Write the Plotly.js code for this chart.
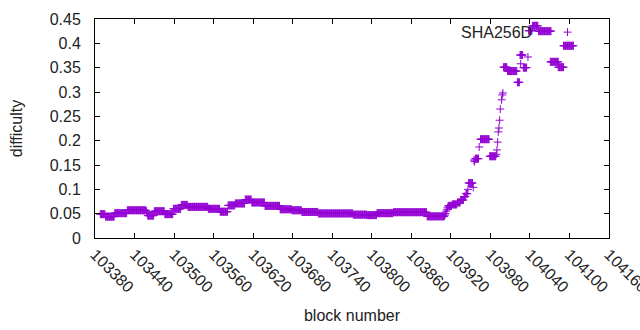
<!DOCTYPE html>
<html>
<head>
<meta charset="utf-8">
<script src="https://cdn.plot.ly/plotly-3.0.1.min.js"></script>
<style>html,body{margin:0;padding:0;background:#fff;}#chart{width:640px;height:330px;}</style>
</head>
<body>
<div id="chart"></div>
<script>
// Runs of constant difficulty: first block, last block, difficulty
const runStart = [103388,103396,103410,103429,103458,103459,103460,103470,103486,103499,103511,103521,103552,103570,103582,103593,103608,103618,103638,103661,103679,103694,103719,103772,103793,103808,103833,103884,
  103911,103912,103913,103914,103915,103916,103922,103930,103935,103940,103943,103946,103947,103954,103955,103956,103957,103963,103965,103979,
  103989,103990,103991,103992,103993,103994,103995,103997,103998,103999,104000,104006,104021,104025,104026,104030,104037,104038,104044,104053,104071,104083,104091,104097];
const runEnd = [103395,103409,103428,103457,103458,103459,103469,103485,103498,103510,103520,103551,103569,103581,103592,103607,103617,103637,103660,103678,103693,103718,103771,103792,103807,103832,103883,103910,
  103911,103912,103913,103914,103915,103921,103929,103934,103939,103942,103945,103946,103953,103954,103955,103956,103962,103963,103978,103988,
  103989,103990,103991,103992,103993,103994,103995,103997,103998,103999,104005,104020,104024,104029,104026,104035,104037,104043,104052,104072,104083,104091,104106,104097];
const runDiff = [0.049,0.044,0.051,0.057,0.055,0.051,0.046,0.055,0.049,0.060,0.068,0.064,0.060,0.054,0.067,0.071,0.079,0.073,0.066,0.059,0.057,0.0535,0.0505,0.048,0.047,0.051,0.053,0.0445,
  0.047,0.050,0.055,0.058,0.062,0.066,0.069,0.073,0.078,0.085,0.091,0.100,0.113,0.104,0.160,0.157,0.163,0.187,0.203,0.168,
  0.172,0.181,0.197,0.218,0.226,0.242,0.265,0.284,0.294,0.298,0.351,0.343,0.320,0.376,0.358,0.350,0.372,0.426,0.436,0.425,0.362,0.351,0.395,0.423];

const yTickVals = [0,0.05,0.1,0.15,0.2,0.25,0.3,0.35,0.4,0.45];
const yTickText = ["0","0.05","0.1","0.15","0.2","0.25","0.3","0.35","0.4","0.45"];
const xTickVals = [103380,103440,103500,103560,103620,103680,103740,103800,103860,103920,103980,104040,104100,104160];
const xTickText = xTickVals.map(String);

// expand runs into one point per block
const blocks = [], diffs = [];
for (let i = 0; i < runStart.length; i++) {
  for (let b = runStart[i]; b <= runEnd[i]; b++) { blocks.push(b); diffs.push(runDiff[i]); }
}

const FONT = "Liberation Sans, Arial, sans-serif";
const trace = {
  x: blocks, y: diffs, type: 'scatter', mode: 'markers', name: 'SHA256D',
  marker: {symbol: 'cross-thin-open', size: 5.7, color: '#9400D3', line: {color: '#9400D3', width: 1}},
  showlegend: false, hoverinfo: 'skip', cliponaxis: false
};
const axCommon = {
  showline: true, linecolor: '#000', linewidth: 1, mirror: 'allticks',
  ticks: 'inside', ticklen: 5, tickcolor: '#000', showgrid: false, zeroline: false,
  tickfont: {family: FONT, size: 16, color: '#222'}, tickmode: 'array'
};
const layout = {
  width: 640, height: 330,
  margin: {l: 95, r: 31, t: 19, b: 92},
  paper_bgcolor: '#fff', plot_bgcolor: '#fff',
  xaxis: Object.assign({}, axCommon, {
    range: [103379.99, 104160.01], tickvals: xTickVals, ticktext: xTickText, tickangle: 45,
    ticklabeloverflow: 'allow',
    title: {text: 'block number', font: {family: FONT, size: 16, color: '#222'}, standoff: 14}
  }),
  yaxis: Object.assign({}, axCommon, {
    range: [0, 0.45], tickvals: yTickVals, ticktext: yTickText, ticklabelstandoff: 10,
    title: {text: 'difficulty', font: {family: FONT, size: 16, color: '#222'}, standoff: 23}
  }),
  annotations: [{
    text: 'SHA256D', xref: 'paper', yref: 'paper', x: 0.855, y: 0.94, xanchor: 'right', yanchor: 'middle',
    showarrow: false, font: {family: FONT, size: 16, color: '#222'}
  }]
};
Plotly.newPlot('chart', [trace], layout, {staticPlot: true, displayModeBar: false});
</script>
</body>
</html>
